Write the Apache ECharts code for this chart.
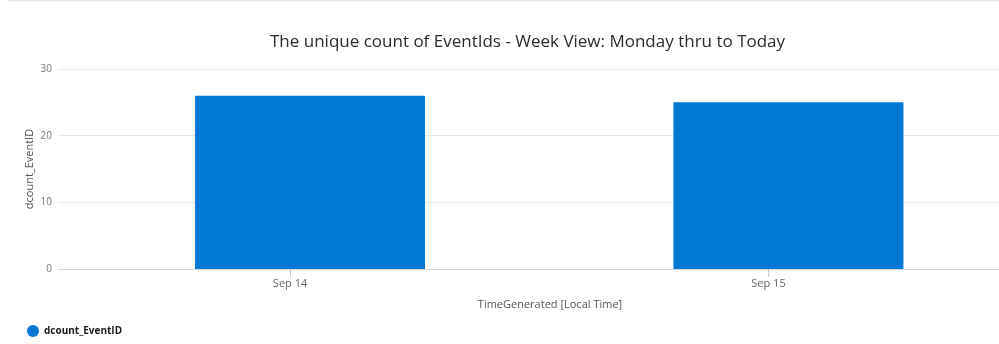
<!DOCTYPE html>
<html>
<head>
<meta charset="utf-8">
<script src="https://cdn.jsdelivr.net/npm/echarts@6/dist/echarts.min.js"></script>
<style>
  html, body { margin: 0; padding: 0; background: #fff; overflow: hidden; }
  #chart { width: 999px; height: 344px; }
</style>
</head>
<body>
<div id="chart"></div>
<script>
// Daily bins (local time) and the distinct EventID count in each bin
const binTimes = ['2020-09-14T01:00:00Z', '2020-09-15T01:00:00Z'];
const dcountEventID = [26, 25];
// Day boundaries that get a tick and a date label
const dayTicks = ['2020-09-14T00:00:00Z', '2020-09-15T00:00:00Z'];
const yTicks = [0, 10, 20, 30];

const HOUR = 3600 * 1000;
const dayMs = dayTicks.map(d => Date.parse(d));
const MONTHS = ['Jan','Feb','Mar','Apr','May','Jun','Jul','Aug','Sep','Oct','Nov','Dec'];
const fontFamily = '"Open Sans", "Noto Sans", sans-serif';

const chart = echarts.init(document.getElementById('chart'));
chart.setOption({
  animation: false,
  title: {
    text: 'The unique count of EventIds - Week View: Monday thru to Today',
    left: 265,
    top: 29,
    textStyle: { fontFamily, fontSize: 17, fontWeight: 400, color: '#2b2b2b' }
  },
  legend: {
    left: 22,
    top: 320,
    icon: 'circle',
    itemWidth: 12,
    itemHeight: 12,
    itemGap: 6,
    textStyle: { fontFamily, fontSize: 10, fontWeight: 'bold', color: '#1a1a1a' }
  },
  // plot area runs past the right edge of the canvas
  grid: { left: 58, width: 984, top: 69, height: 200, outerBoundsMode: 'none', containLabel: false },
  xAxis: {
    // timestamps in ms on a linear scale
    type: 'value',
    min: dayMs[0] - 11.64 * HOUR,
    max: dayMs[0] + 37.72 * HOUR,
    name: 'TimeGenerated [Local Time]',
    nameLocation: 'middle',
    nameGap: 30,
    nameTextStyle: { fontFamily, fontSize: 11, color: '#555' },
    axisLine: { show: true, lineStyle: { color: '#d8d8d8', width: 1 } },
    axisTick: { show: true, length: 8, customValues: dayMs, lineStyle: { color: '#c8c8c8' } },
    axisLabel: {
      customValues: dayMs,
      margin: 9,
      fontFamily, fontSize: 11, color: '#666',
      formatter: v => { const d = new Date(v); return MONTHS[d.getUTCMonth()] + ' ' + d.getUTCDate(); }
    },
    splitLine: { show: false }
  },
  yAxis: {
    type: 'value',
    min: yTicks[0],
    max: yTicks[yTicks.length - 1],
    interval: yTicks[1] - yTicks[0],
    name: 'dcount_EventID',
    nameLocation: 'middle',
    nameGap: 23,
    nameMoveOverlap: false,
    nameTextStyle: { fontFamily, fontSize: 11, color: '#555' },
    axisLine: { show: false },
    axisTick: { show: false },
    axisLabel: { margin: 6, fontFamily, fontSize: 10, color: '#777' },
    splitLine: { lineStyle: { color: '#e8e8e8', width: 1 } }
  },
  series: [{
    name: 'dcount_EventID',
    type: 'bar',
    barWidth: 230,
    itemStyle: { color: '#0078d4' },
    data: binTimes.map((t, i) => [Date.parse(t), dcountEventID[i]])
  }],
  graphic: [{
    type: 'line',
    shape: { x1: 8, y1: 0.5, x2: 999, y2: 0.5 },
    style: { stroke: '#e6e6e6', lineWidth: 2 }
  }]
});
</script>
</body>
</html>
